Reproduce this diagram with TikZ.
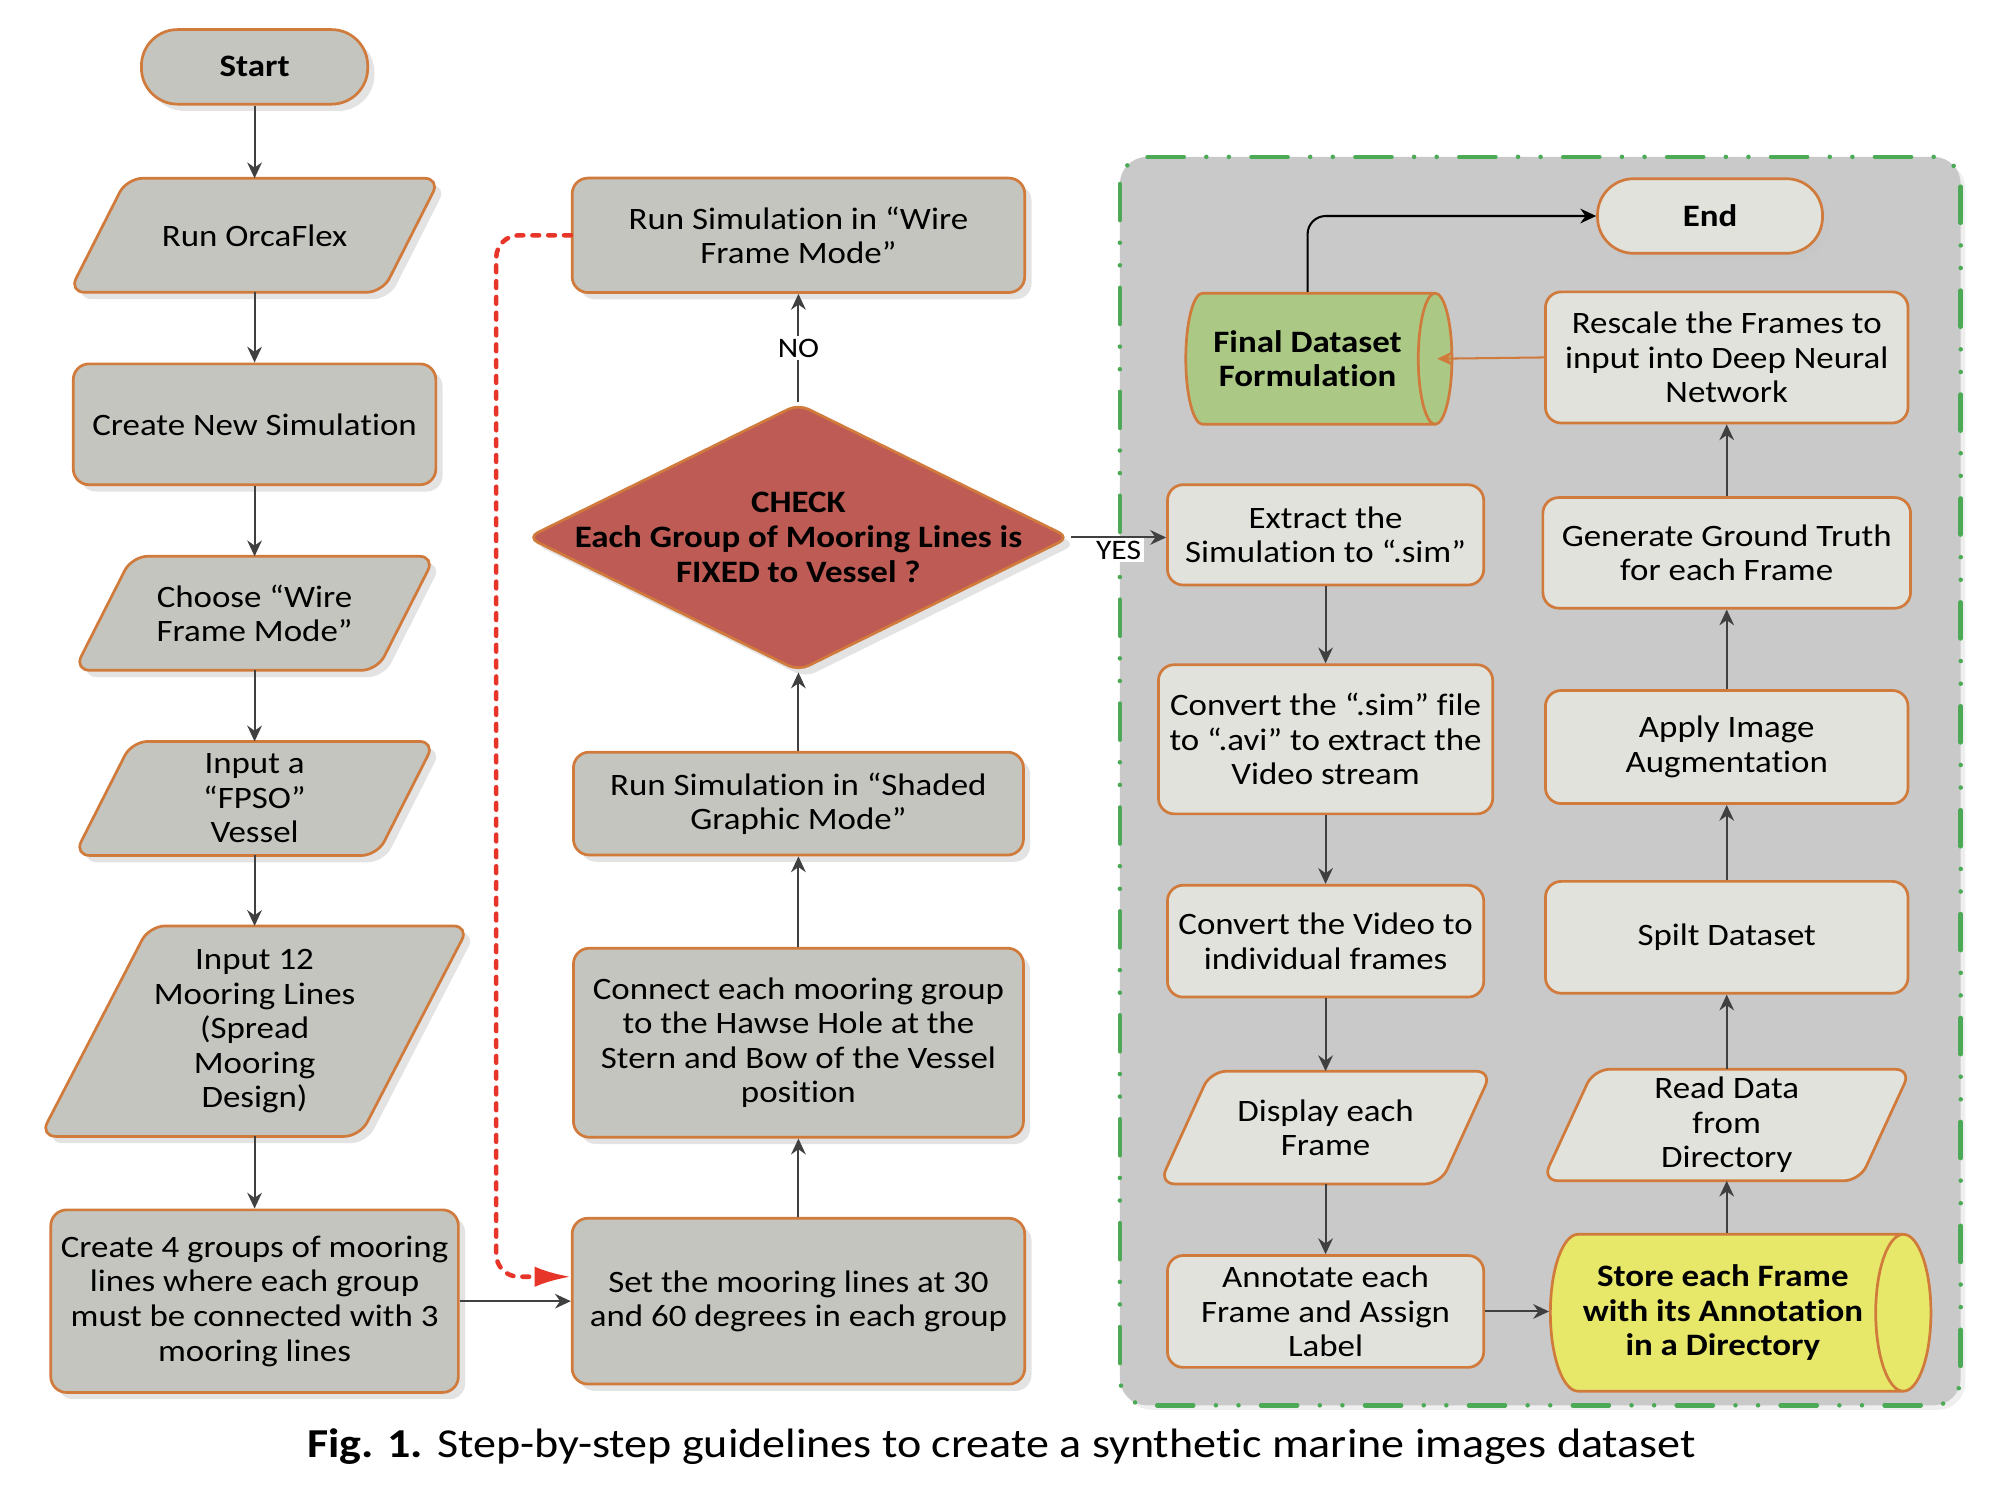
\documentclass[tikz,border=0pt]{standalone}
\usepackage{fontspec}
\setmainfont{Carlito}[FakeStretch=1.12, Ligatures=NoCommon]
\usetikzlibrary{calc,positioning,arrows.meta,shapes.geometric,shadows}

\definecolor{boxgray}{RGB}{196,197,190}
\definecolor{boxline}{RGB}{208,122,60}
\definecolor{innerbox}{RGB}{225,226,219}
\definecolor{panelgray}{RGB}{201,201,201}
\definecolor{panelgreen}{RGB}{76,170,86}
\definecolor{checkred}{RGB}{191,91,85}
\definecolor{finalgreen}{RGB}{171,201,133}
\definecolor{storeyellow}{RGB}{231,231,106}
\definecolor{flowgray}{RGB}{64,64,64}
\definecolor{loopred}{RGB}{232,53,42}

\pgfdeclarelayer{panel}
\pgfdeclarelayer{frames}
\pgfsetlayers{panel,frames,main}

\tikzset{
  txt/.style={font=\fontsize{13.8}{15.3}\selectfont, align=center},
  boxsize/.style 2 args={minimum width=#1*0.02cm, minimum height=#2*0.02cm},
  outershadow/.style={drop shadow={shadow xshift=3pt, shadow yshift=-3pt, fill=black!22}},
  procbox/.style={txt, draw=boxline, line width=1.2pt, rectangle, rounded corners=7pt,
    inner sep=1pt, fill=boxgray, outershadow},
  innerproc/.style={txt, draw=boxline, line width=1.2pt, rectangle, rounded corners=7pt,
    inner sep=1pt, fill=innerbox},
  iotext/.style={txt, inner sep=1pt},
  ioline/.style={draw=boxline, line width=1.2pt, rounded corners=7pt},
  termbox/.style={procbox, rounded corners=16pt, font=\fontsize{13.8}{15.3}\selectfont\bfseries},
  datastore/.style={txt, font=\fontsize{13.8}{15.3}\selectfont\bfseries, cylinder,
    shape border rotate=0, aspect=0.55, draw=boxline, line width=1.2pt, inner sep=1pt},
  flow/.style={draw=flowgray, line width=0.9pt, -{Stealth[length=7pt,width=6.5pt]}},
  answer/.style={font=\fontsize{12.5}{14}\selectfont, fill=white, inner sep=1.2pt},
}

% parallelogram round a text node: fill, node name, slant
\newcommand{\ioframe}[3]{%
  \begin{pgfonlayer}{frames}
    \draw[ioline, fill=#1] ([xshift=#3]#2.north west) -- (#2.north east)
      -- ([xshift=-#3]#2.south east) -- (#2.south west) -- cycle;
  \end{pgfonlayer}}

\begin{document}
\begin{tikzpicture}[x=0.02cm, y=-0.02cm]
  \useasboundingbox (0,0) rectangle (1568,1171.3);

  % panel for the dataset part
  \begin{pgfonlayer}{panel}
    \draw[panelgreen, line width=2pt, line cap=round, rounded corners=12pt, fill=panelgray,
      dash pattern=on 16pt off 10pt on 0pt off 10pt on 0pt off 10pt,
      drop shadow={shadow xshift=2pt, shadow yshift=-2pt, fill=black!12}]
      (871,122) rectangle (1525,1093);
  \end{pgfonlayer}

  % left column
  \node[termbox, boxsize={176}{58}] at (198,52) (start) {Start};
  \node[iotext, boxsize={288}{88}] at (198,183) (orca) {Run OrcaFlex};
  \node[procbox, boxsize={282}{94}] at (198,330) (newsim) {Create New Simulation};
  \node[iotext, boxsize={280}{88}] at (198,477) (choose) {Choose “Wire\\Frame Mode”};
  \node[iotext, boxsize={280}{88}] at (198,621) (fpso) {Input a\\“FPSO”\\Vessel};
  \node[iotext, boxsize={333}{163}] at (198,802) (moor) {Input 12\\Mooring Lines\\(Spread\\Mooring\\Design)};
  \node[procbox, boxsize={317}{142}] at (198,1012) (groups) {Create 4 groups of mooring\\lines where each group\\must be connected with 3\\mooring lines};
  \ioframe{boxgray, outershadow}{orca}{0.9cm}
  \ioframe{boxgray, outershadow}{choose}{0.9cm}
  \ioframe{boxgray, outershadow}{fpso}{0.9cm}
  \ioframe{boxgray, outershadow}{moor}{1.7cm}

  % middle column
  \node[procbox, boxsize={352}{129}] at (621,1012) (setml) {Set the mooring lines at 30\\and 60 degrees in each group};
  \node[procbox, boxsize={350}{147}] at (621,811) (connect) {Connect each mooring group\\to the Hawse Hole at the\\Stern and Bow of the Vessel\\position};
  \node[procbox, boxsize={350}{80}] at (621,625) (shaded) {Run Simulation in “Shaded\\Graphic Mode”};
  \node[diamond, draw=boxline, line width=1.2pt, fill=checkred, rounded corners=5pt, inner sep=0pt,
    boxsize={422}{208}, outershadow] at (621,418) (check) {};
  \node[txt, font=\fontsize{13.8}{15.3}\selectfont\bfseries] at (check) (checktxt) {CHECK\\Each Group of Mooring Lines is\\FIXED to Vessel ?};
  \node[procbox, boxsize={352}{89}] at (621,183) (wire) {Run Simulation in “Wire\\Frame Mode”};

  % dataset column 1
  \node[innerproc, boxsize={246}{78}] at (1031,416) (extract) {Extract the\\Simulation to “.sim”};
  \node[innerproc, boxsize={260}{116}] at (1031,575) (convsim) {Convert the “.sim” file\\to “.avi” to extract the\\Video stream};
  \node[innerproc, boxsize={246}{87}] at (1031,732) (convvid) {Convert the Video to\\individual frames};
  \node[iotext, boxsize={258}{87}] at (1031,877) (display) {Display each\\Frame};
  \node[innerproc, boxsize={246}{87}] at (1031,1020) (annot) {Annotate each\\Frame and Assign\\Label};
  \ioframe{innerbox}{display}{0.8cm}

  % dataset column 2
  \node[datastore, fill=storeyellow, boxsize={122}{296}] at (1340,1021) (store) {Store each Frame\\with its Annotation\\in a Directory};
  \node[iotext, boxsize={286}{86}] at (1343,875) (read) {Read Data\\from\\Directory};
  \node[innerproc, boxsize={282}{87}] at (1343,729) (split) {Spilt Dataset};
  \node[innerproc, boxsize={282}{88}] at (1343,581) (apply) {Apply Image\\Augmentation};
  \node[innerproc, boxsize={286}{86}] at (1343,430) (gen) {Generate Ground Truth\\for each Frame};
  \node[innerproc, boxsize={282}{102}] at (1343,278) (rescale) {Rescale the Frames to\\input into Deep Neural\\Network};
  \node[datastore, fill=finalgreen, boxsize={102}{207}] at (1017,279) (final) {Final Dataset\\Formulation};
  \node[termbox, fill=innerbox, boxsize={175}{58}, drop shadow={opacity=0}] at (1330,168) (endn) {End};
  \ioframe{innerbox}{read}{0.8cm}

  % connectors
  \draw[flow] (start) -- (orca);
  \draw[flow] (orca) -- (newsim);
  \draw[flow] (newsim) -- (choose);
  \draw[flow] (choose) -- (fpso);
  \draw[flow] (fpso) -- (moor);
  \draw[flow] (moor) -- (groups);
  \draw[flow] (groups) -- (setml);
  \draw[flow] (setml) -- (connect);
  \draw[flow] (connect) -- (shaded);
  \draw[flow] (shaded) -- (check);
  \draw[flow] (check) -- node[answer] {NO} (wire);
  \draw[flow] (check.east) -- node[answer, below=0pt] {YES} (check.east -| extract.west);
  \draw[loopred, line width=2pt, line cap=round, dash pattern=on 3pt off 4pt, rounded corners=10pt,
    -{Latex[length=16pt,width=9pt]}]
    (wire.west) -- ++(-58,0) |- ([yshift=0.38cm]setml.west);

  \draw[flow] (extract) -- (convsim);
  \draw[flow] (convsim) -- (convvid);
  \draw[flow] (convvid) -- (display);
  \draw[flow] (display) -- (annot);
  \draw[flow] (annot.east) -- (annot.east -| store.west);
  \draw[flow] (read.south |- store.north) -- (read.south);
  \draw[flow] (read) -- (split);
  \draw[flow] (split) -- (apply);
  \draw[flow] (apply) -- (gen);
  \draw[flow] (gen) -- (rescale);
  \draw[flow, draw=boxline] (rescale.west) -- ([xshift=-0.25cm]final.east);
  \draw[flow, draw=black, rounded corners=8pt] (final.north) |- (endn.west);

  % caption
  \node[font=\fontsize{18.2}{21}\selectfont] at (779,1125) (caption) {\textbf{Fig. 1.} Step-by-step guidelines to create a synthetic marine images dataset};
\end{tikzpicture}
\end{document}
